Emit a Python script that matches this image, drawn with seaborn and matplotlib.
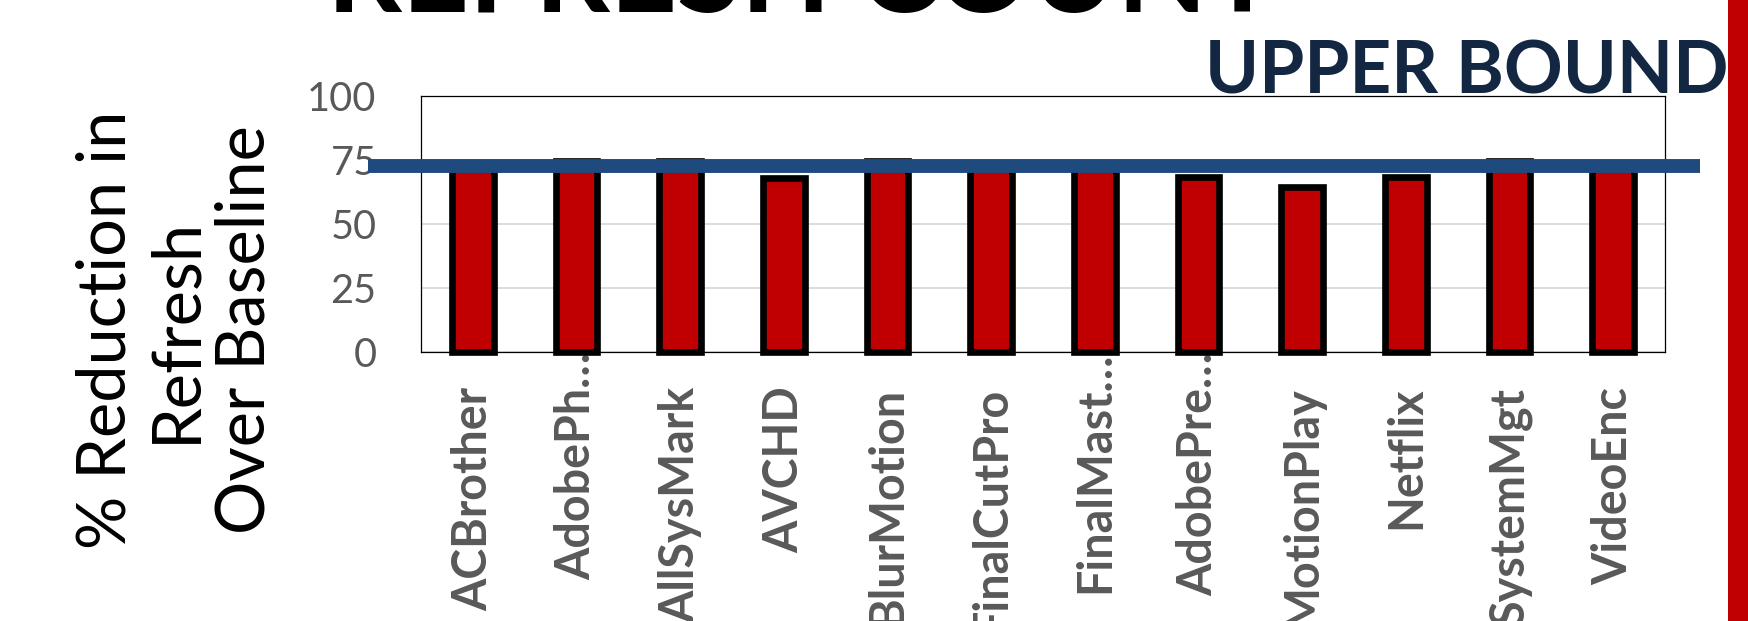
import matplotlib
matplotlib.use("Agg")
import matplotlib.pyplot as plt
import matplotlib.transforms as mtransforms
from matplotlib.patches import Rectangle
import seaborn as sns

# ---- data ----
categories = ["ACBrother", "AdobePh…", "AllSysMark", "AVCHD", "BlurMotion",
              "FinalCutPro", "FinalMast…", "AdobePre…", "MotionPlay",
              "Netflix", "SystemMgt", "VideoEnc"]
reduction = [73.0, 74.5, 74.5, 68.0, 74.5, 73.0, 73.0, 68.5, 64.6, 68.5, 74.5, 73.0]
upper_bound = 72.5
y_ticks = [0, 25, 50, 75, 100]
title_text = "REFRESH COUNT"
bound_text = "UPPER BOUND"
y_label = "% Reduction in\nRefresh\nOver Baseline"

sns.set_theme(style="white")
plt.rcParams["font.family"] = ["Lato", "DejaVu Sans"]

W, H = 1748, 621
fig = plt.figure(figsize=(W / 100, H / 100), dpi=100)
fig.patch.set_facecolor("white")

ax_l, ax_r, ax_t, ax_b = 421, 1665, 96, 352
ax = fig.add_axes([ax_l / W, 1 - ax_b / H, (ax_r - ax_l) / W, (ax_b - ax_t) / H])

sns.barplot(x=categories, y=reduction, color="#C00000", saturation=1,
            edgecolor="black", linewidth=4.8, width=0.4, ax=ax, zorder=3)
for p in ax.patches:
    p.set_clip_on(False)
    p.set_joinstyle("miter")

ax.set_ylim(0, 100)
ax.set_xlim(-0.5, len(categories) - 0.5)
ax.set_yticks(y_ticks)
ax.yaxis.grid(True, color="#D9D9D9", linewidth=1.3, zorder=0)
ax.xaxis.grid(False)
ax.set_axisbelow(True)
for s in ax.spines.values():
    s.set_visible(True)
    s.set_color("black")
    s.set_linewidth(0.9)

ax.tick_params(axis="y", length=0, pad=32, labelsize=28.6, labelcolor="#595959")
ax.tick_params(axis="x", length=0, pad=25, labelsize=33.6, labelcolor="#595959")
ax.set_xlabel("")
for lab in ax.get_xticklabels():
    lab.set_rotation(90)
    lab.set_ha("center")
    lab.set_va("top")
    lab.set_fontweight("bold")
    if lab.get_text().endswith("…"):
        lab.set_transform(lab.get_transform() +
                          mtransforms.ScaledTranslation(0, 35 / 100, fig.dpi_scale_trans))

ax.set_ylabel(y_label, fontsize=48, color="black", va="center", ha="center",
              multialignment="center", linespacing=1.15)
ax.yaxis.set_label_coords((176 - ax_l) / (ax_r - ax_l), (ax_b - 330) / (ax_b - ax_t))

# upper bound line extending beyond the axes
ax.axhline(upper_bound, xmin=(368 - ax_l) / (ax_r - ax_l), xmax=(1700 - ax_l) / (ax_r - ax_l),
           color="#1F4A7E", linewidth=10, clip_on=False, zorder=5, solid_capstyle="butt")

# annotations
fig.text(1205 / W, 1 - 93 / H, bound_text, ha="left", va="baseline", fontsize=52.5,
         fontweight="bold", color="#132742")
fig.text(802 / W, 1 - 12 / H, title_text, ha="center", va="baseline", fontsize=84,
         fontweight="bold", color="black")

# red strip at the right edge
fig.patches.append(Rectangle((1728 / W, 0), 20 / W, 1, transform=fig.transFigure,
                             facecolor="#C00000", edgecolor="none", zorder=10))

fig.savefig("out.png", dpi=100, facecolor="white")
